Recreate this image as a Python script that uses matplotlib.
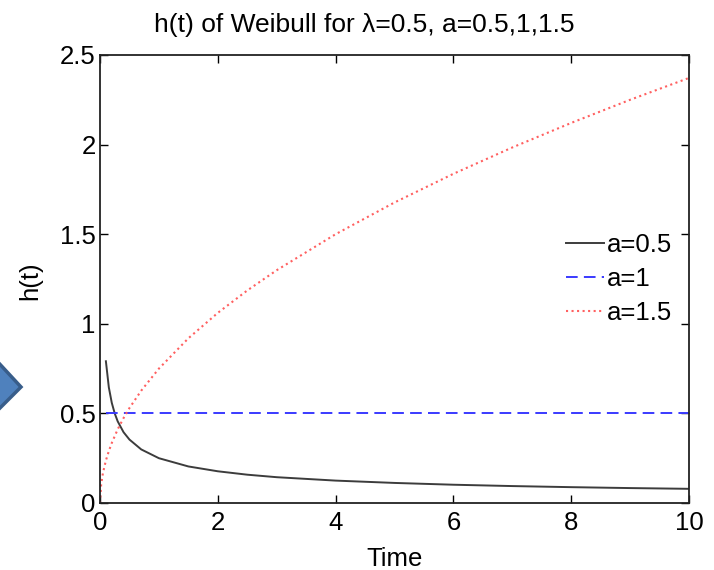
import matplotlib
matplotlib.use('Agg')
import matplotlib.pyplot as plt
from matplotlib.patches import Polygon

plt.rcParams['font.family'] = ['Liberation Sans', 'DejaVu Sans']

# values (lambda=0.5)
t_a05 = [0.1, 0.15, 0.2, 0.25, 0.3, 0.4, 0.5, 0.7, 1, 1.5, 2, 2.5, 3, 4, 5, 6, 7, 8, 9, 10]
h_a05 = [0.791, 0.645, 0.559, 0.5, 0.456, 0.395, 0.354, 0.299, 0.25, 0.204, 0.177,
         0.158, 0.144, 0.125, 0.112, 0.102, 0.0945, 0.0884, 0.0833, 0.0791]
t_a1 = [0.1, 10]
h_a1 = [0.5, 0.5]
t_a15 = [0, 0.02, 0.05, 0.1, 0.15, 0.2, 0.3, 0.4, 0.5, 0.7, 1, 1.5, 2, 2.5, 3, 4, 5, 6, 7, 8, 9, 10]
h_a15 = [0, 0.106, 0.168, 0.237, 0.29, 0.335, 0.411, 0.474, 0.53, 0.627, 0.75, 0.919, 1.061,
         1.186, 1.299, 1.5, 1.677, 1.837, 1.984, 2.121, 2.25, 2.372]
labels = ['a=0.5', 'a=1', 'a=1.5']
xticks = [0, 2, 4, 6, 8, 10]
yticks = [0, 0.5, 1, 1.5, 2, 2.5]

W, H = 714, 570
fig = plt.figure(figsize=(W / 100, H / 100), dpi=100)
ax = fig.add_axes([100 / W, (H - 503) / H, 589 / W, 448 / H])

ax.plot(t_a05, h_a05, '-', color='#3c3c3c', lw=1.4, label=labels[0])
ax.plot(t_a1, h_a1, '--', color='#3a3aff', lw=1.4, dashes=(6, 3.2), label=labels[1])
ax.plot(t_a15, h_a15, ':', color='#ff6060', lw=1.5, label=labels[2])

ax.set_xlim(0, 10)
ax.set_ylim(0, 2.5)
ax.set_xticks(xticks)
ax.set_xticklabels([str(v) for v in xticks])
ax.set_yticks(yticks)
ax.set_yticklabels(['0', '0.5', '1', '1.5', '2', '2.5'])
ax.tick_params(direction='in', length=5.5, width=1, top=True, right=True,
               labelsize=18.5, colors='black')
ax.tick_params(axis='x', pad=6)
ax.tick_params(axis='y', pad=3)
for s in ax.spines.values():
    s.set_linewidth(1.3)
    s.set_color('#222222')

ax.legend(loc='center right', bbox_to_anchor=(0.972, 0.5), frameon=False,
          fontsize=18.5, handlelength=1.5, handletextpad=0.12, labelspacing=0.38,
          borderpad=0, borderaxespad=0)

fig.text(364 / W, 1 - 32 / H, 'h(t) of Weibull for λ=0.5, a=0.5,1,1.5',
         ha='center', va='baseline', fontsize=19)
fig.text(394.5 / W, 1 - 566 / H, 'Time', ha='center', va='baseline', fontsize=18.5)
fig.text(30 / W, 1 - 281 / H, 'h(t)', ha='center', va='center', rotation=90, fontsize=18.5)

# slide arrow shape at the left edge
pts = [(-30, 360), (-4, 360), (21, 387), (-4, 412), (-30, 412)]
arrow = Polygon([(x / W, 1 - y / H) for x, y in pts], closed=True,
                transform=fig.transFigure, facecolor='#4f81bd', edgecolor='#385d8a',
                lw=2.5, clip_on=False)
fig.patches.append(arrow)

fig.savefig('out.png', dpi=100)
